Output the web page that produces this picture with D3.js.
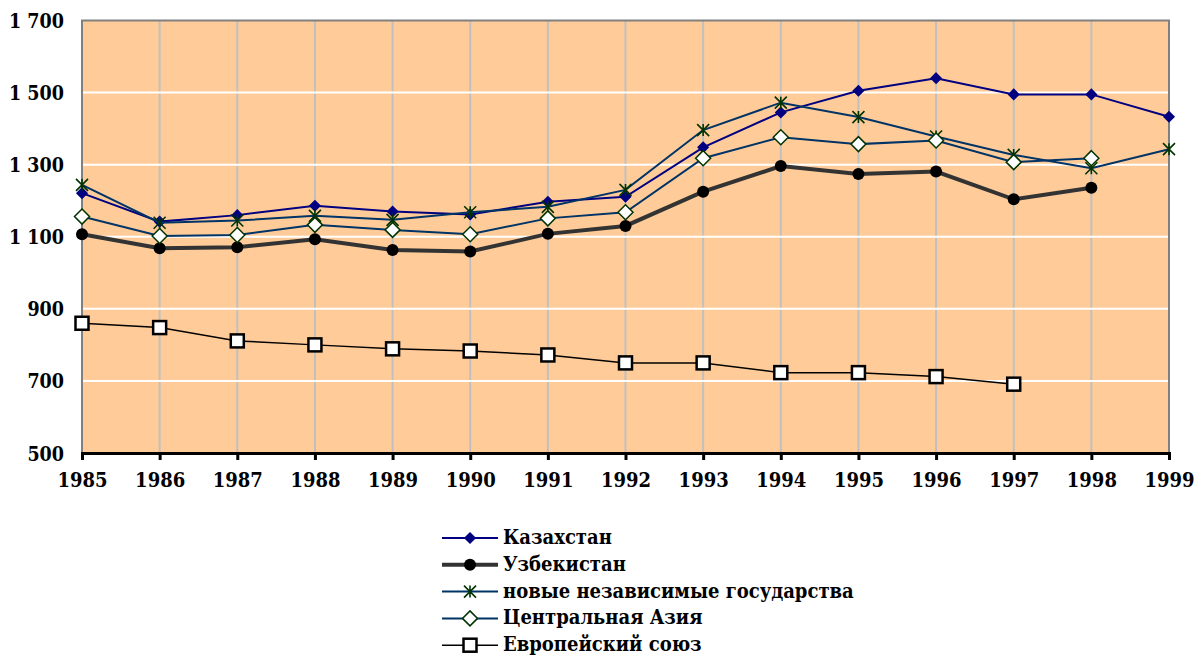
<!DOCTYPE html>
<html>
<head>
<meta charset="utf-8">
<script src="https://cdn.jsdelivr.net/npm/d3@7"></script>
<style>
  body { margin: 0; background: #fff; }
  text { font-family: "DejaVu Serif", serif; font-weight: bold; font-stretch: condensed; }
</style>
</head>
<body>
<script>
// Chart size
var width = 1199;
var height = 657;

// Data
var years = [1985, 1986, 1987, 1988, 1989, 1990, 1991, 1992, 1993, 1994, 1995, 1996, 1997, 1998, 1999];
var kazakhstan = [1221, 1142, 1160, 1186, 1170, 1162, 1197, 1211, 1348, 1445, 1505, 1540, 1495, 1495, 1433];
var uzbekistan = [1107, 1068, 1071, 1093, 1063, 1059, 1108, 1130, 1225, 1296, 1274, 1281, 1204, 1236, null];
var nis = [1244, 1139, 1145, 1158, 1147, 1168, 1183, 1230, 1396, 1472, 1432, 1378, 1327, 1290, 1343];
var centralAsia = [1156, 1102, 1105, 1133, 1119, 1107, 1151, 1168, 1318, 1376, 1357, 1367, 1307, 1318, null];
var eu = [860, 848, 811, 800, 789, 783, 772, 750, 750, 723, 723, 712, 691, null, null];
var yTicks = [500, 700, 900, 1100, 1300, 1500, 1700];
var seriesNames = ["Казахстан", "Узбекистан", "новые независимые государства", "Центральная Азия", "Европейский союз"];

var series = [
  {name: seriesNames[0], values: kazakhstan, line: "#000080", width: 2, marker: "diamond", fill: "#000080", stroke: "#000080", size: 10},
  {name: seriesNames[1], values: uzbekistan, line: "#333333", width: 4, marker: "circle", fill: "#000", stroke: "#000", size: 12},
  {name: seriesNames[2], values: nis, line: "#003366", width: 2, marker: "star", fill: "none", stroke: "#003300", size: 12},
  {name: seriesNames[3], values: centralAsia, line: "#003366", width: 2, marker: "diamond", fill: "#fff", stroke: "#003300", size: 15},
  {name: seriesNames[4], values: eu, line: "#000", width: 1.5, marker: "square", fill: "#fff", stroke: "#000", size: 13}
];

var plot = {left: 82, right: 1169, top: 20.5, bottom: 453};

var x = d3.scaleLinear().domain([1985, 1999]).range([plot.left, plot.right]);
var y = d3.scaleLinear().domain([500, 1700]).range([plot.bottom, plot.top]);

var svg = d3.select("body").append("svg")
  .attr("width", width)
  .attr("height", height);

// plot background
svg.append("rect")
  .attr("x", plot.left).attr("y", plot.top)
  .attr("width", plot.right - plot.left).attr("height", plot.bottom - plot.top)
  .attr("fill", "#ffcc99");

// vertical grid
svg.append("g").selectAll("line")
  .data(years.slice(1, -1))
  .enter().append("line")
  .attr("x1", function (d) { return x(d); })
  .attr("x2", function (d) { return x(d); })
  .attr("y1", plot.top).attr("y2", plot.bottom)
  .attr("stroke", "#c0c0c0").attr("stroke-width", 2);

// horizontal grid
svg.append("g").selectAll("line")
  .data(yTicks.slice(1, -1))
  .enter().append("line")
  .attr("x1", plot.left).attr("x2", plot.right)
  .attr("y1", function (d) { return y(d); })
  .attr("y2", function (d) { return y(d); })
  .attr("stroke", "#fff").attr("stroke-width", 2);

// frame (top, left, right grey)
svg.append("path")
  .attr("d", "M" + plot.left + "," + plot.bottom + "V" + plot.top + "H" + plot.right + "V" + plot.bottom)
  .attr("fill", "none").attr("stroke", "#808080").attr("stroke-width", 2);

// y axis labels
var fmt = d3.formatLocale({decimal: ",", thousands: " ", grouping: [3], currency: ["", ""]}).format(",");
var yAxis = d3.axisLeft(y).tickValues(yTicks).tickFormat(fmt).tickSize(0).tickPadding(0);
var gy = svg.append("g")
  .attr("transform", "translate(" + 64 + ",0)")
  .call(yAxis);
gy.select(".domain").remove();
gy.selectAll("text")
  .attr("font-size", 19.5).attr("fill", "#000").attr("dy", "0.36em");

// x axis
var xAxis = d3.axisBottom(x).tickValues(years).tickFormat(d3.format("d")).tickSize(7).tickPadding(13);
var gx = svg.append("g")
  .attr("transform", "translate(0," + plot.bottom + ")")
  .call(xAxis);
gx.select(".domain").attr("stroke", "#000").attr("stroke-width", 3);
gx.selectAll(".tick line").attr("stroke", "#000").attr("stroke-width", 3);
gx.selectAll("text")
  .attr("font-size", 20).attr("fill", "#000");

// marker drawing
function drawMarker(g, s, cx, cy) {
  var h = s.size / 2;
  if (s.marker === "diamond") {
    g.append("path")
      .attr("d", "M" + cx + "," + (cy - h) + "L" + (cx + h) + "," + cy + "L" + cx + "," + (cy + h) + "L" + (cx - h) + "," + cy + "Z")
      .attr("fill", s.fill).attr("stroke", s.stroke).attr("stroke-width", 1.5);
  } else if (s.marker === "circle") {
    g.append("circle")
      .attr("cx", cx).attr("cy", cy).attr("r", h)
      .attr("fill", s.fill);
  } else if (s.marker === "square") {
    g.append("rect")
      .attr("x", cx - h).attr("y", cy - h)
      .attr("width", s.size).attr("height", s.size)
      .attr("fill", s.fill).attr("stroke", s.stroke).attr("stroke-width", 2.5);
  } else if (s.marker === "star") {
    var p = "M" + (cx - h) + "," + (cy - h) + "L" + (cx + h) + "," + (cy + h) +
            "M" + (cx + h) + "," + (cy - h) + "L" + (cx - h) + "," + (cy + h) +
            "M" + cx + "," + (cy - h) + "L" + cx + "," + (cy + h);
    g.append("path").attr("d", p)
      .attr("fill", "none").attr("stroke", s.stroke).attr("stroke-width", 1.6);
  }
}

var line = d3.line()
  .defined(function (d) { return d != null; })
  .x(function (d, i) { return x(years[i]); })
  .y(function (d) { return y(d); });

series.forEach(function (s) {
  var g = svg.append("g");
  g.append("path")
    .attr("d", line(s.values))
    .attr("fill", "none")
    .attr("stroke", s.line)
    .attr("stroke-width", s.width);
  s.values.forEach(function (v, i) {
    if (v == null) return;
    drawMarker(g, s, x(years[i]), y(v));
  });
});

// legend
var legend = svg.append("g");
series.forEach(function (s, i) {
  var base = 544 + i * 26.8;
  var ly = base - 6;
  legend.append("line")
    .attr("x1", 442).attr("x2", 498)
    .attr("y1", ly).attr("y2", ly)
    .attr("stroke", s.line).attr("stroke-width", s.width);
  drawMarker(legend, s, 470, ly);
  legend.append("text")
    .attr("x", 503).attr("y", base)
    .attr("font-size", 20)
    .attr("fill", "#000")
    .text(s.name);
});
</script>
</body>
</html>
